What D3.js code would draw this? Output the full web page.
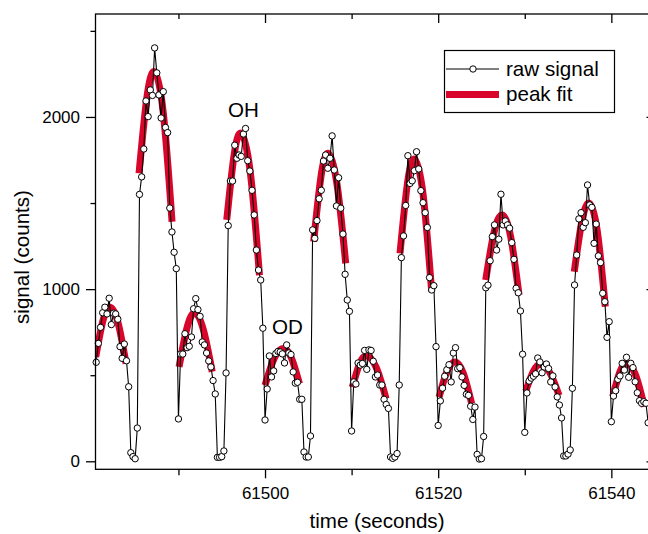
<!DOCTYPE html>
<html>
<head>
<meta charset="utf-8">
<script src="https://cdn.jsdelivr.net/npm/d3@7/dist/d3.min.js"></script>
<style>
  html, body { margin: 0; padding: 0; background: #fff; }
  svg { display: block; }
  text { font-family: "Liberation Sans", Arial, Helvetica, sans-serif; fill: #000; }
</style>
</head>
<body>
<svg id="chart" width="648" height="534"></svg>
<script>
// ---------------- data ----------------
const rawTime = [
  61480.5, 61480.75, 61481, 61481.25, 61481.5, 61481.75, 61482, 61482.25,
  61482.5, 61482.75, 61483, 61483.25, 61483.5, 61483.75, 61484, 61484.25,
  61484.5, 61484.75, 61485, 61485.25, 61485.5, 61485.75, 61486, 61486.25,
  61486.5, 61486.75, 61487, 61487.25, 61487.5, 61487.75, 61488, 61488.25,
  61488.5, 61488.75, 61489, 61489.25, 61489.5, 61489.75, 61490, 61490.25,
  61490.5, 61490.75, 61491, 61491.25, 61491.5, 61491.75, 61492, 61492.25,
  61492.5, 61492.75, 61493, 61493.25, 61493.5, 61493.75, 61494, 61494.25,
  61494.5, 61494.75, 61495, 61495.25, 61495.5, 61495.75, 61496, 61496.25,
  61496.5, 61496.75, 61497, 61497.25, 61497.5, 61497.75, 61498, 61498.25,
  61498.5, 61498.75, 61499, 61499.25, 61499.5, 61499.75, 61500, 61500.25,
  61500.5, 61500.75, 61501, 61501.25, 61501.5, 61501.75, 61502, 61502.25,
  61502.5, 61502.75, 61503, 61503.25, 61503.5, 61503.75, 61504, 61504.25,
  61504.5, 61504.75, 61505, 61505.25, 61505.5, 61505.75, 61506, 61506.25,
  61506.5, 61506.75, 61507, 61507.25, 61507.5, 61507.75, 61508, 61508.25,
  61508.5, 61508.75, 61509, 61509.25, 61509.5, 61509.75, 61510, 61510.25,
  61510.5, 61510.75, 61511, 61511.25, 61511.5, 61511.75, 61512, 61512.25,
  61512.5, 61512.75, 61513, 61513.25, 61513.5, 61513.75, 61514, 61514.25,
  61514.5, 61514.75, 61515, 61515.25, 61515.5, 61515.75, 61516, 61516.25,
  61516.5, 61516.75, 61517, 61517.25, 61517.5, 61517.75, 61518, 61518.25,
  61518.5, 61518.75, 61519, 61519.25, 61519.5, 61519.75, 61520, 61520.25,
  61520.5, 61520.75, 61521, 61521.25, 61521.5, 61521.75, 61522, 61522.25,
  61522.5, 61522.75, 61523, 61523.25, 61523.5, 61523.75, 61524, 61524.25,
  61524.5, 61524.75, 61525, 61525.25, 61525.5, 61525.75, 61526, 61526.25,
  61526.5, 61526.75, 61527, 61527.25, 61527.5, 61527.75, 61528, 61528.25,
  61528.5, 61528.75, 61529, 61529.25, 61529.5, 61529.75, 61530, 61530.25,
  61530.5, 61530.75, 61531, 61531.25, 61531.5, 61531.75, 61532, 61532.25,
  61532.5, 61532.75, 61533, 61533.25, 61533.5, 61533.75, 61534, 61534.25,
  61534.5, 61534.75, 61535, 61535.25, 61535.5, 61535.75, 61536, 61536.25,
  61536.5, 61536.75, 61537, 61537.25, 61537.5, 61537.75, 61538, 61538.25,
  61538.5, 61538.75, 61539, 61539.25, 61539.5, 61539.75, 61540, 61540.25,
  61540.5, 61540.75, 61541, 61541.25, 61541.5, 61541.75, 61542, 61542.25,
  61542.5, 61542.75, 61543, 61543.25, 61543.5, 61543.75, 61544, 61544.25
];
const rawSignal = [
  575, 685, 778, 863, 895, 856, 947, 794,
  860, 856, 825, 666, 598, 681, 584, 433,
  50, 27, 15, 193, 1550, 1652, 1814, 2093,
  2002, 2157, 2125, 2401, 2256, 2128, 1994, 2147,
  1939, 1909, 1471, 1332, 1214, 1119, 246, 623,
  623, 741, 660, 668, 722, 886, 945, 881,
  842, 693, 676, 629, 583, 548, 469, 391,
  23, 23, 27, 60, 513, 1369, 1628, 1628,
  1836, 1760, 1779, 1771, 1901, 1933, 1746, 1686,
  1574, 1431, 1227, 1111, 1053, 773, 240, 420,
  612, 490, 525, 626, 638, 635, 624, 571,
  676, 629, 620, 519, 454, 459, 360, 360,
  54, 25, 25, 147, 1344, 1295, 1398, 1525,
  1574, 1744, 1779, 1702, 1760, 1890, 1692, 1483,
  1647, 1470, 1320, 1086, 937, 871, 176, 461,
  449, 571, 559, 568, 644, 534, 647, 644,
  581, 490, 501, 443, 443, 360, 330, 307,
  25, 17, 25, 45, 443, 1183, 1309, 1486,
  1775, 1614, 1629, 1688, 1798, 1698, 1572, 1502,
  1444, 1358, 1067, 995, 1020, 666, 208, 351,
  425, 494, 532, 561, 461, 629, 660, 538,
  544, 490, 441, 389, 383, 320, 243, 315,
  40, 13, 15, 144, 1008, 1023, 1165, 1305,
  1373, 1227, 1290, 1551, 1373, 1396, 1373, 1354,
  1270, 1173, 1005, 979, 873, 622, 168, 397,
  466, 483, 494, 508, 600, 577, 514, 548,
  565, 539, 461, 496, 432, 374, 327, 252,
  31, 31, 42, 66, 424, 1024, 1198, 1408,
  1444, 1359, 1386, 1605, 1489, 1475, 1266, 1378,
  1193, 1154, 976, 927, 720, 811, 230, 379,
  410, 476, 496, 569, 530, 604, 488, 569,
  544, 462, 398, 352, 337, 346, 337, 224
];
// peak fit curves (one sampled curve per peak)
const fitTime = [
  [61480.45, 61481.28, 61482.10, 61483.02, 61483.95],
  [61485.45, 61486.33, 61487.21, 61488.24, 61489.26],
  [61490.07, 61491.00, 61491.92, 61492.90, 61493.90],
  [61495.58, 61496.40, 61497.23, 61498.29, 61499.36],
  [61500.00, 61501.05, 61502.11, 61503.05, 61503.98],
  [61505.62, 61506.45, 61507.28, 61508.29, 61509.32],
  [61510.08, 61510.90, 61511.72, 61512.84, 61513.98],
  [61515.59, 61516.43, 61517.27, 61518.26, 61519.25],
  [61520.10, 61521.02, 61521.95, 61522.90, 61523.87],
  [61525.49, 61526.45, 61527.41, 61528.37, 61529.34],
  [61530.11, 61530.98, 61531.84, 61532.90, 61533.96],
  [61535.72, 61536.59, 61537.46, 61538.38, 61539.30],
  [61540.16, 61540.97, 61541.78, 61542.80, 61543.81]
];
const fitSignal = [
  [606, 817, 895, 806, 567],
  [1673, 2104, 2263, 2028, 1392],
  [548, 777, 862, 760, 520],
  [1402, 1769, 1905, 1682, 1080],
  [441, 597, 655, 600, 451],
  [1276, 1650, 1789, 1617, 1150],
  [431, 564, 613, 545, 364],
  [1208, 1607, 1755, 1548, 985],
  [373, 522, 577, 512, 335],
  [1053, 1329, 1431, 1305, 966],
  [408, 522, 564, 515, 383],
  [1101, 1392, 1499, 1336, 898],
  [375, 517, 569, 501, 317]
];
const xMajorTicks = [61500, 61520, 61540];
const xMinorTicks = [61490, 61510, 61530];
const yMajorTicks = [0, 1000, 2000];
const yMinorTicks = [500, 1500, 2500];
const annotations = [
  { text: "OH", t: 61495.73, v: 2000 },
  { text: "OD", t: 61500.81, v: 738 }
];
const legendLabels = ["raw signal", "peak fit"];
const xTitle = "time (seconds)";
const yTitle = "signal (counts)";

// ---------------- drawing ----------------
const svg = d3.select("#chart");
const L = 95.5, R = 655.5, T = 14, B = 469.3;
const x = d3.scaleLinear().domain([61480.42, 61545.1]).range([L, R]);
const y = d3.scaleLinear().domain([-46.5, 2598]).range([B, T]);
const red = "#d9062c";
const FS = "20.6px";

svg.append("defs").append("clipPath").attr("id", "plotclip")
  .append("rect").attr("x", L).attr("y", T).attr("width", R - L).attr("height", B - T);

const plot = svg.append("g").attr("clip-path", "url(#plotclip)");

// fits
const fitLine = d3.line().x(d => x(d[0])).y(d => y(d[1])).curve(d3.curveNatural);
fitTime.forEach((ts, k) => {
  const pts = ts.map((t, j) => [t, fitSignal[k][j]]);
  plot.append("path").attr("d", fitLine(pts))
    .attr("fill", "none").attr("stroke", red).attr("stroke-width", 7)
    .attr("stroke-linecap", "butt").attr("stroke-linejoin", "round");
});

// raw line
const rawPts = rawTime.map((t, i) => [t, rawSignal[i]]);
const rawLine = d3.line().x(d => x(d[0])).y(d => y(d[1]));
plot.append("path").attr("d", rawLine(rawPts))
  .attr("fill", "none").attr("stroke", "#000").attr("stroke-width", 1.1);

// markers
svg.append("g").selectAll("circle").data(rawPts).join("circle")
  .attr("cx", d => x(d[0])).attr("cy", d => y(d[1])).attr("r", 3.2)
  .attr("fill", "#fff").attr("stroke", "#000").attr("stroke-width", 1);

// axes
function styleAxis(g) {
  g.select(".domain").remove();
  g.selectAll(".tick line").attr("stroke", "#000").attr("stroke-width", 1.3);
  g.selectAll(".tick text").style("font-size", "17px")
    .style("font-family", '"Liberation Sans", Arial, sans-serif').attr("fill", "#000");
}
const fmt = d3.format("d");
svg.append("g").attr("transform", `translate(0,${B})`)
  .call(d3.axisBottom(x).tickValues(xMajorTicks).tickFormat(fmt).tickSize(9).tickPadding(8.5))
  .call(styleAxis);
svg.append("g").attr("transform", `translate(0,${B})`)
  .call(d3.axisBottom(x).tickValues(xMinorTicks).tickFormat("").tickSize(6))
  .call(styleAxis);
svg.append("g").attr("transform", `translate(0,${T})`)
  .call(d3.axisTop(x).tickValues(xMajorTicks).tickFormat("").tickSize(-9))
  .call(styleAxis);
svg.append("g").attr("transform", `translate(0,${T})`)
  .call(d3.axisTop(x).tickValues(xMinorTicks).tickFormat("").tickSize(-5))
  .call(styleAxis);
svg.append("g").attr("transform", `translate(${L},0)`)
  .call(d3.axisLeft(y).tickValues(yMajorTicks).tickFormat(fmt).tickSize(9.5).tickPadding(6))
  .call(styleAxis);
svg.append("g").attr("transform", `translate(${L},0)`)
  .call(d3.axisLeft(y).tickValues(yMinorTicks).tickFormat("").tickSize(5))
  .call(styleAxis);
svg.append("g").attr("transform", `translate(${R},0)`)
  .call(d3.axisRight(y).tickValues(yMajorTicks).tickFormat("").tickSize(-9))
  .call(styleAxis);
svg.append("g").attr("transform", `translate(${R},0)`)
  .call(d3.axisRight(y).tickValues(yMinorTicks).tickFormat("").tickSize(-5))
  .call(styleAxis);

// frame
svg.append("rect").attr("x", L).attr("y", T).attr("width", R - L).attr("height", B - T)
  .attr("fill", "none").attr("stroke", "#000").attr("stroke-width", 1.3);

// annotations
svg.append("g").selectAll("text").data(annotations).join("text")
  .attr("x", d => x(d.t)).attr("y", d => y(d.v))
  .style("font-size", FS).text(d => d.text);

// axis titles
svg.append("text").attr("x", 377).attr("y", 528).attr("text-anchor", "middle")
  .style("font-size", FS).text(xTitle);
svg.append("text").attr("transform", "translate(29,257) rotate(-90)")
  .attr("text-anchor", "middle").style("font-size", FS).text(yTitle);

// legend
const lg = svg.append("g");
lg.append("rect").attr("x", 444.5).attr("y", 50.5).attr("width", 170).attr("height", 62)
  .attr("fill", "#fff").attr("stroke", "#000").attr("stroke-width", 1.2);
lg.append("line").attr("x1", 446).attr("x2", 499).attr("y1", 69).attr("y2", 69)
  .attr("stroke", "#000").attr("stroke-width", 1.1);
lg.append("circle").attr("cx", 473).attr("cy", 69).attr("r", 3.2)
  .attr("fill", "#fff").attr("stroke", "#000");
lg.append("line").attr("x1", 446).attr("x2", 499).attr("y1", 94.5).attr("y2", 94.5)
  .attr("stroke", red).attr("stroke-width", 7);
lg.selectAll("text.lab").data(legendLabels).join("text").attr("class", "lab")
  .attr("x", 506).attr("y", (d, i) => 76 + i * 24.5)
  .style("font-size", FS).text(d => d);
</script>
</body>
</html>
